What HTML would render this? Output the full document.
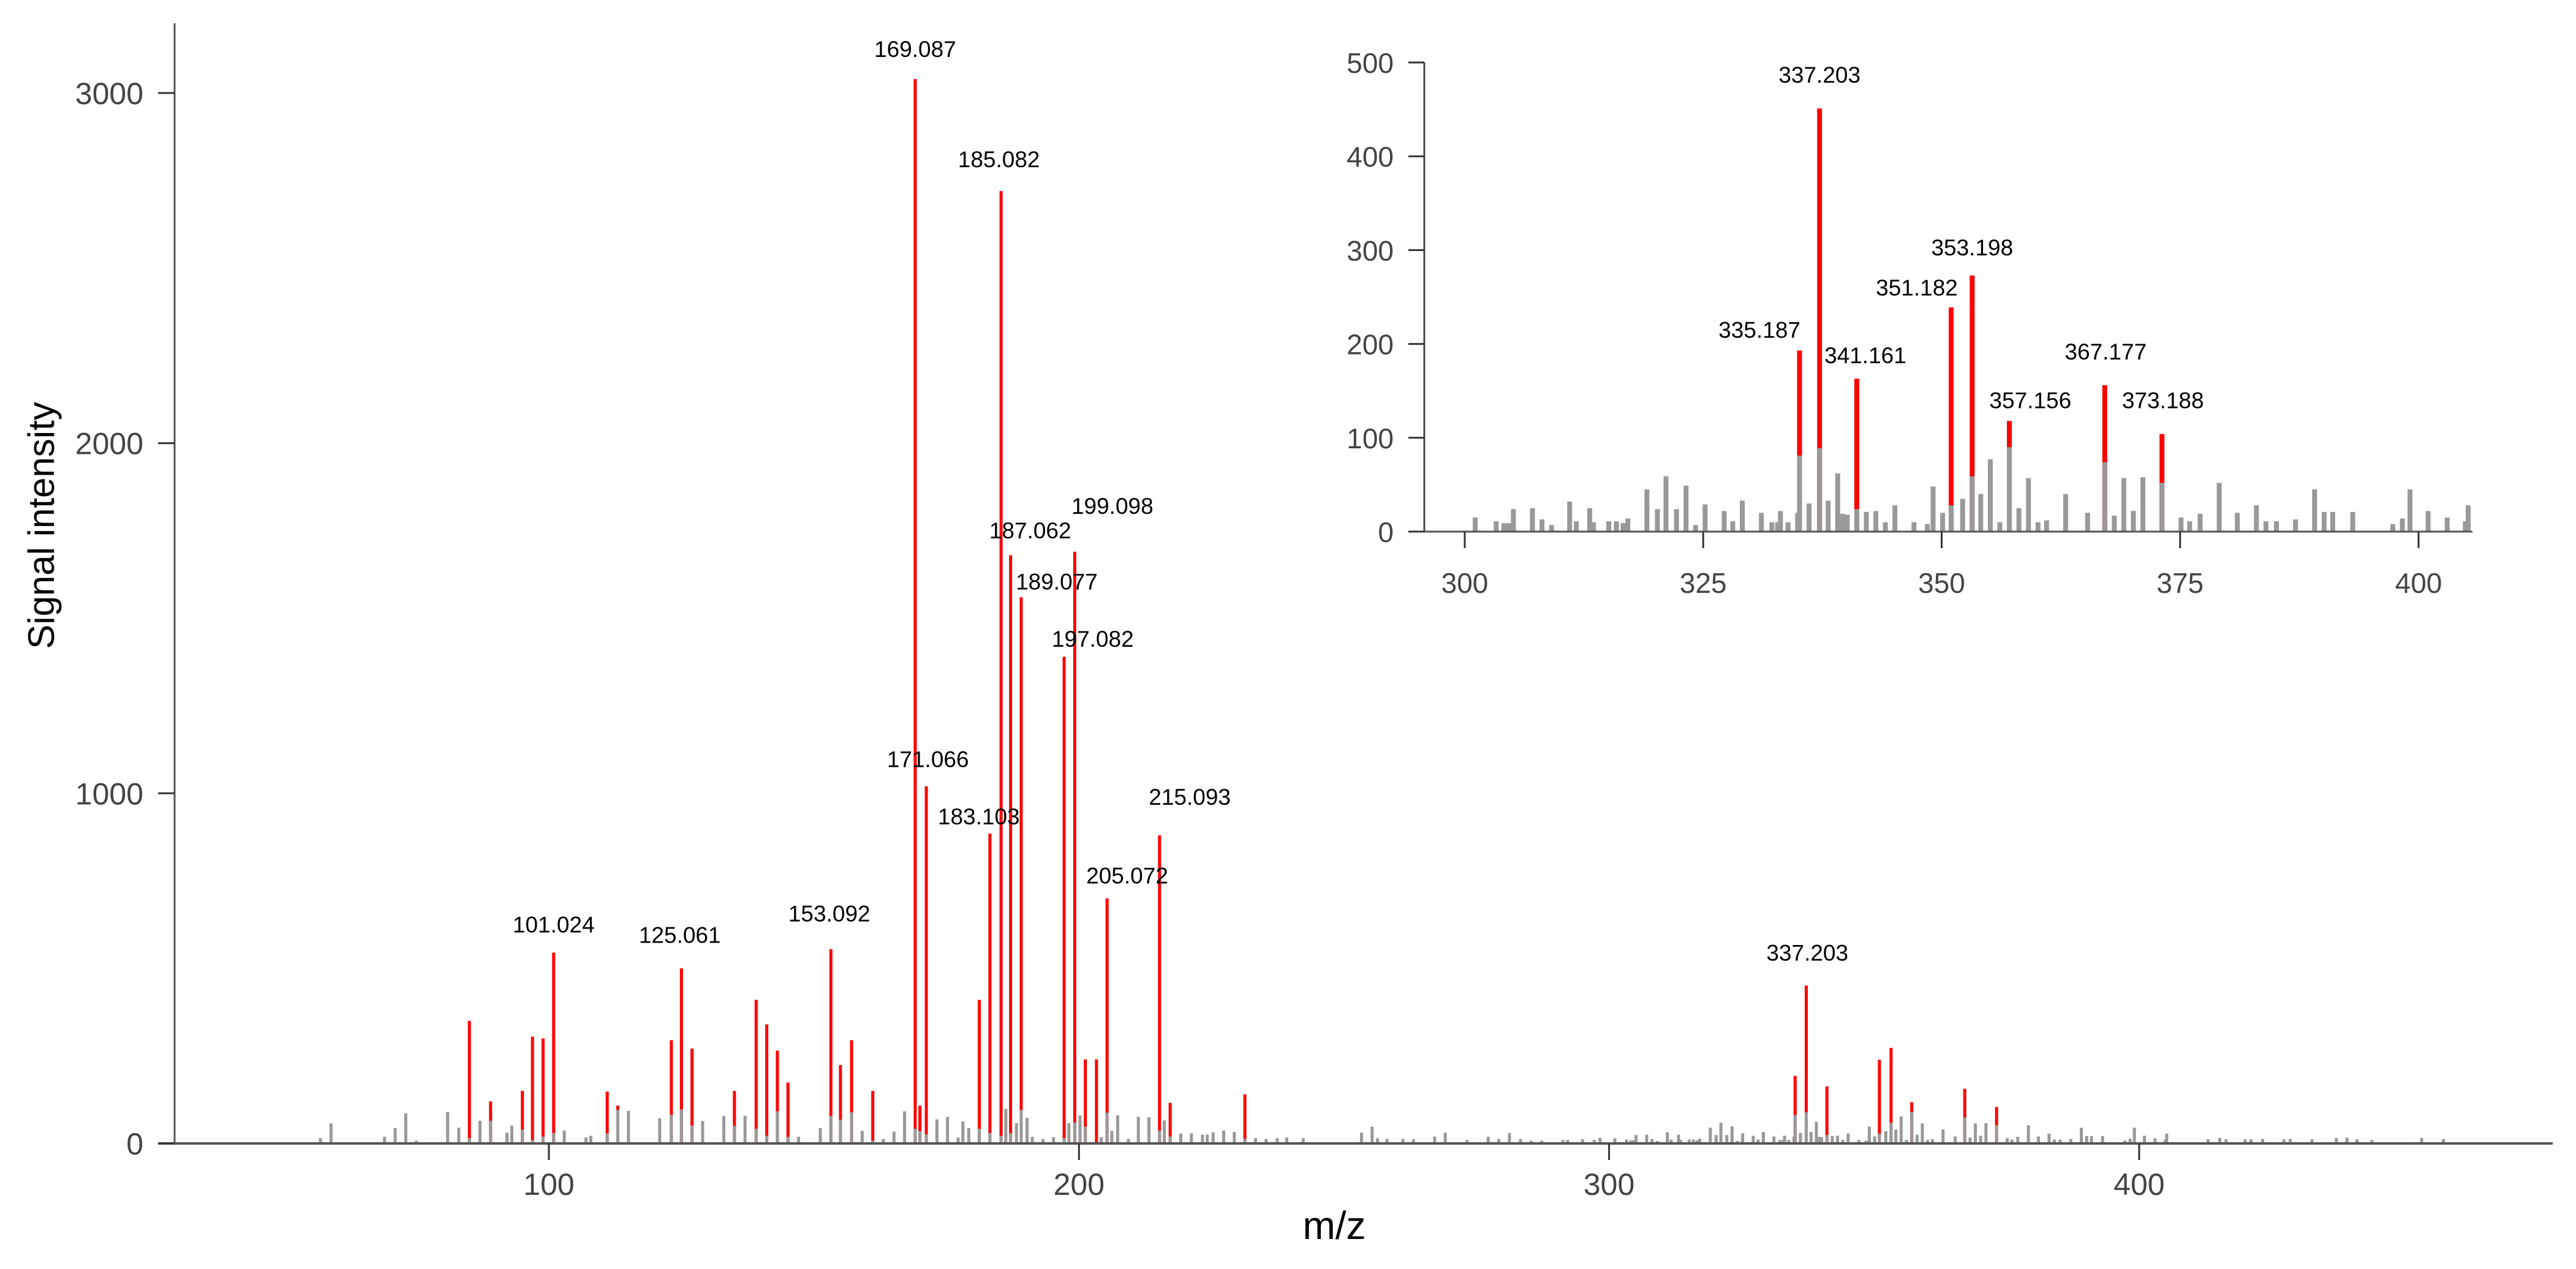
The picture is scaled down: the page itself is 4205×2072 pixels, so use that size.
<!DOCTYPE html>
<html><head><meta charset="utf-8"><style>
html,body{margin:0;padding:0;background:#fff}
svg{display:block}
text{font-family:"Liberation Sans",Arial,sans-serif}
</style></head><body>
<svg id="chart" xmlns="http://www.w3.org/2000/svg" width="4205" height="2072" viewBox="0 0 4205 2072">
<rect width="4205" height="2072" fill="#fff"/>
<g id="main"></g>
<g id="inset"></g>
<text x="72" y="858" font-size="60" text-anchor="middle" dominant-baseline="middle" transform="rotate(-90 72 858)">Signal intensity</text>
<text x="2178" y="2006" font-size="64" text-anchor="middle" dominant-baseline="middle">m/z</text>
</svg>
<script>
const grayMz=[56.9,58.9,69,71,73,75,80.9,83,87,92.1,93,102.9,107,107.9,115,120.9,129,133,137,147.1,151.2,159.1,163.1,165.1,167.1,173.2,175.2,177.2,178.1,179.2,186.2,188.2,190.2,191.2,193.2,195.2,198.1,200.2,204.2,206.2,207.3,209.3,211.2,213.2,216.1,219.2,221.2,223.3,224.2,225.3,227.3,229.3,233.3,235.3,237.4,239.2,242.3,253.3,255.3,256.3,258.1,261.1,263.1,267.1,269.1,273.2,277.2,279.2,281.2,283.3,285.3,287.3,291.3,292.2,295,297.2,298.3,
301.1,303.3,304.1,304.6,305.1,307.1,308.1,309.1,311,311.7,313.1,313.5,315.1,315.9,316.6,317.1,319.1,320.2,321.1,322.2,323.2,324.2,325.2,327.2,328.1,329.1,331.1,332.2,332.8,333.1,333.9,334.9,336.1,338.1,339.1,339.6,340.1,342.1,343.1,344.1,345.1,347.1,348.5,349.1,350.1,352.2,354.1,355.1,356.1,358.1,359.1,360.1,361,363,365.3,368.1,369.1,370.1,371.1,375.1,376,377.1,379.1,381,383,384,385.1,387.1,389.1,390.1,391,393.1,397.3,398.3,399.1,401,403,404.9,405.2,
413,415.2,416.4,420,421.1,423.3,427.3,428.5,432.6,437.2,439.2,441.1,443.9,451.3,453.3,457.4];
const grayInt=[15,57,19,44,86,8,90,45,65,31,51,37,17,22,93,72,64,78,79,19,44,36,13,34,92,69,76,17,63,44,99,58,73,19,13,18,58,80,18,36,80,13,76,75,66,28,29,25,25,32,37,33,15,13,15,17,15,31,48,15,13,13,12,20,31,10,19,13,30,13,8,8,10,10,12,10,16,
15,11,9,9,24,25,13,7,32,11,25,10,11,11,9,14,45,24,59,24,49,7,29,22,11,33,20,10,10,22,10,20,30,33,62,19,18,21,22,10,28,10,8,48,20,35,40,77,10,25,57,10,12,40,20,17,57,22,58,15,11,19,52,20,28,11,11,13,45,21,21,21,8,14,45,22,15,11,28,
12,16,12,12,12,13,12,13,12,15,17,12,10,4,16,13];
const redMz=[85.0,89.0,95.0,96.9,98.9,100.9,111,113,123.1,125,127,135,139.1,141.1,143.1,145.1,153.2,155,157.1,161.1,169.1,170,171.2,181.2,183.2,185.3,187.1,189.1,197.2,199.2,201.2,203.3,205.3,215.2,217.2,231.3,335.1,337.2,341.1,351.0,353.2,357.1,367.1,373.1];
const redInt=[350,120,150,305,300,545,148,108,295,500,271,150,410,340,265,174,555,224,295,150,3040,108,1020,410,885,2720,1680,1560,1390,1690,240,240,700,880,116,140,193,451,163,239,273,118,156,104];
const redBase=[15,65,40,10,20,30,29,96,82,97,51,50,42,22,92,19,79,68,89,8,42,35,26,42,30,22,29,96,15,60,48,2,88,37,20,13,81,89,24,28,59,90,74,52];
const mainLabels=["101.024","125.061","153.092","169.087","171.066","183.103","185.082","187.062","189.077","197.082","199.098","205.072","215.093","337.203"];
const mainLabelMz=[100.9,124.7,152.9,169.1,171.5,181.1,184.9,190.8,195.8,202.6,206.3,209.1,220.9,337.4];
const mainLabelInt=[625,596,657,3126,1098,934,2811,1751,1605,1441,1821,765,990,545];
const insetLabels=["337.203","353.198","351.182","335.187","341.161","367.177","357.156","373.188"];
const insetLabelMz=[337.2,353.2,347.4,330.9,342.0,367.2,359.3,373.2];
const insetLabelInt=[487,303,260,215,188,192,140,140];
const mainXTicks=[100,200,300,400];
const mainYTicks=[0,1000,2000,3000];
const insetXTicks=[300,325,350,375,400];
const insetYTicks=[0,100,200,300,400,500];

const NS="http://www.w3.org/2000/svg";
function mk(parent,tag,attrs,txt){const e=document.createElementNS(NS,tag);for(const k in attrs)e.setAttribute(k,attrs[k]);if(txt!==undefined)e.textContent=txt;parent.appendChild(e);return e;}

const mx=v=>896+(v-100)*8.653;
const my=v=>1867-v*0.5717;
const ix=v=>2391+(v-300)*15.57;
const iy=v=>868-v*1.532;

const gMain=document.getElementById('main');
const gIn=document.getElementById('inset');

function drawBars(g,X,Y,w,filter){
  for(let i=0;i<grayMz.length;i++){
    if(!filter(grayMz[i]))continue;
    const h=Y(0)-Y(grayInt[i]);
    const r=mk(g,'rect',{x:X(grayMz[i])-w/2,y:Y(grayInt[i]),width:w,height:h,fill:'#999'});
    
    
  }
  for(let i=0;i<redMz.length;i++){
    if(!filter(redMz[i]))continue;
    const r=mk(g,'rect',{x:X(redMz[i])-w/2,y:Y(redInt[i]),width:w,height:Y(0)-Y(redInt[i]),fill:'#ff0000'});
    
    
    const b=mk(g,'rect',{x:X(redMz[i])-w/2,y:Y(redBase[i]),width:w,height:Y(0)-Y(redBase[i]),fill:'#999'});
    
    
  }
}
drawBars(gMain,mx,my,5,v=>true);
drawBars(gIn,ix,iy,8,v=>v>=300&&v<=406);

let a=mk(gMain,'line',{x1:285,y1:38,x2:285,y2:1867,stroke:'#555','stroke-width':3});


a=mk(gMain,'line',{x1:258,y1:1867,x2:4167,y2:1867,stroke:'#555','stroke-width':4});


mainXTicks.forEach(t=>{
  const l=mk(gMain,'line',{x1:mx(t),y1:1867,x2:mx(t),y2:1894,stroke:'#333','stroke-width':3});
  
  
  const s=mk(gMain,'text',{x:mx(t),y:1951,'font-size':50,'text-anchor':'middle',fill:'#444'},String(t));
  
  
});
mainYTicks.forEach(t=>{
  const l=mk(gMain,'line',{x1:258,y1:my(t),x2:285,y2:my(t),stroke:'#333','stroke-width':3});
  
  
  const s=mk(gMain,'text',{x:234,y:my(t)+18,'font-size':50,'text-anchor':'end',fill:'#444'},String(t));
  
  
});
mainLabels.forEach((t,i)=>{
  const s=mk(gMain,'text',{x:mx(mainLabelMz[i]),y:my(mainLabelInt[i])+13,'font-size':37,'text-anchor':'middle',fill:'#000'},t);
  
  
});

a=mk(gIn,'line',{x1:2325,y1:iy(500),x2:2325,y2:868,stroke:'#444','stroke-width':3});


a=mk(gIn,'line',{x1:2299,y1:868,x2:4036,y2:868,stroke:'#555','stroke-width':3});


insetXTicks.forEach(t=>{
  const l=mk(gIn,'line',{x1:ix(t),y1:868,x2:ix(t),y2:895,stroke:'#333','stroke-width':3});
  
  
  const s=mk(gIn,'text',{x:ix(t),y:968,'font-size':46,'text-anchor':'middle',fill:'#444'},String(t));
  
  
});
insetYTicks.forEach(t=>{
  const l=mk(gIn,'line',{x1:2299,y1:iy(t),x2:2325,y2:iy(t),stroke:'#333','stroke-width':3});
  
  
  const s=mk(gIn,'text',{x:2275,y:iy(t)+17,'font-size':46,'text-anchor':'end',fill:'#444'},String(t));
  
  
});
insetLabels.forEach((t,i)=>{
  const s=mk(gIn,'text',{x:ix(insetLabelMz[i]),y:iy(insetLabelInt[i])+13,'font-size':37,'text-anchor':'middle',fill:'#000'},t);
  
  
});
</script>
</body></html>
